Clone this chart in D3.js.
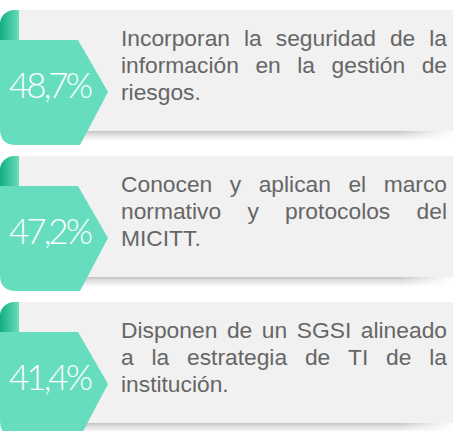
<!DOCTYPE html>
<html><head><meta charset="utf-8">
<script src="https://cdn.jsdelivr.net/npm/d3@7"></script>
<style>html,body{margin:0;padding:0;background:#fff;}svg{display:block;}</style>
</head><body>
<svg id="c" width="453" height="431"></svg>
<script>
const categories = ["seguridad", "marco", "sgsi"];
const values = [48.7, 47.2, 41.4];
const line1 = ["Incorporan la seguridad de la", "Conocen y aplican el marco", "Disponen de un SGSI alineado"];
const line2 = ["información en la gestión de", "normativo y protocolos del", "a la estrategia de TI de la"];
const line3 = ["riesgos.", "MICITT.", "institución."];

const W = 453, H = 431;
const svg = d3.select("#c");
const fmt = d3.formatLocale({decimal: ",", thousands: ".", grouping: [3], currency: ["", ""]}).format(".1f");

const y = d3.scaleBand().domain(categories).range([10, 448]).paddingInner(0).paddingOuter(0);
const green = "#67ddbf";

const defs = svg.append("defs");
const curlG = defs.append("linearGradient").attr("id", "curl").attr("x1", 0).attr("x2", 1).attr("y1", 0).attr("y2", 0);
curlG.append("stop").attr("offset", 0).attr("stop-color", "#0fae80");
curlG.append("stop").attr("offset", 1).attr("stop-color", "#6cdcbd");
const shG = defs.append("linearGradient").attr("id", "sh").attr("x1", 0).attr("x2", 0).attr("y1", 0).attr("y2", 1);
shG.append("stop").attr("offset", 0).attr("stop-color", "#c4c4c4");
shG.append("stop").attr("offset", 0.35).attr("stop-color", "#dedede");
shG.append("stop").attr("offset", 1).attr("stop-color", "#ffffff");
const fadeG = defs.append("linearGradient").attr("id", "fade").attr("x1", 0).attr("x2", 1).attr("y1", 0).attr("y2", 0);
fadeG.append("stop").attr("offset", 0).attr("stop-color", "#fff").attr("stop-opacity", 0);
fadeG.append("stop").attr("offset", 1).attr("stop-color", "#fff").attr("stop-opacity", 1);

const textColor = "#666666";
const tx0 = 121, tx1 = 447;

categories.forEach((c, i) => {
  const t = y(c);
  const g = svg.append("g");
  // shadow
  g.append("rect").attr("x", 19).attr("y", t + 121).attr("width", W - 19).attr("height", 10).attr("fill", "url(#sh)");
  g.append("rect").attr("x", 400).attr("y", t + 121).attr("width", 53).attr("height", 10).attr("fill", "url(#fade)");
  // grey box
  g.append("rect").attr("x", 19).attr("y", t).attr("width", W - 19).attr("height", 121).attr("fill", "#f1f1f1");
  // curl
  g.append("path").attr("d", `M19,${t} L19,${t+30} L0,${t+30} L0,${t+15} A14,14 0 0 1 14,${t} Z`).attr("fill", "url(#curl)");
  // body
  const r = 16;
  g.append("path").attr("d",
    `M0,${t+30} L78,${t+30} L108,${t+82} L80,${t+135} L${r},${t+135} Q0,${t+135} 0,${t+135-r} Z`)
    .attr("fill", green);
  // percentage
  g.append("text").attr("x", 49.5).attr("y", t + 88)
    .attr("text-anchor", "middle")
    .attr("font-family", "Lato, 'Open Sans', sans-serif")
    .attr("font-weight", 300)
    .attr("font-size", 35)
    .attr("letter-spacing", -3)
    .attr("fill", "#fff")
    .text(fmt(values[i]) + "%");
  // text lines
  const lines = [line1[i], line2[i], line3[i]];
  const offs = [36, 63, 90];
  lines.forEach((ln, j) => {
    const words = ln.split(" ");
    const nodes = words.map(w => g.append("text")
      .attr("y", t + offs[j])
      .attr("font-family", "'Liberation Sans', Arial, sans-serif")
      .attr("font-size", 22.8)
      .attr("fill", textColor)
      .text(w));
    const widths = nodes.map(n => n.node().getComputedTextLength());
    const total = d3.sum(widths);
    const justify = j < 2 && words.length > 1;
    const gap = justify ? (tx1 - tx0 - total) / (words.length - 1) : 6.3;
    let x = tx0;
    nodes.forEach((n, k) => { n.attr("x", x); x += widths[k] + gap; });
  });
});
</script>
</body></html>
